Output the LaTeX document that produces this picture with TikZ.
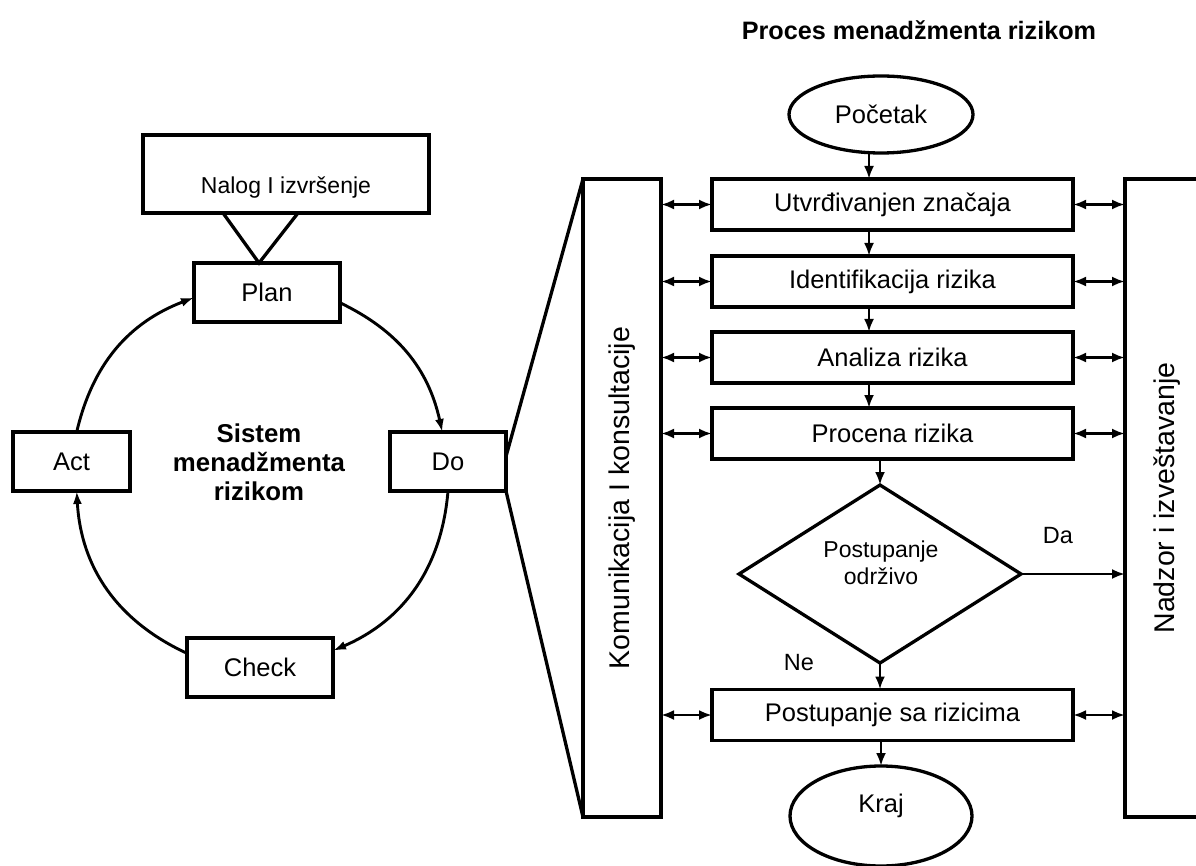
\documentclass[tikz,border=0pt]{standalone}
\usepackage{fontspec}
\setmainfont{Liberation Sans}
\usetikzlibrary{shapes.geometric,arrows.meta,calc}
\begin{document}
\begin{tikzpicture}[x=1pt,y=-1pt,
  every node/.style={inner sep=0pt,outer sep=0pt},
  frame/.style={draw,line width=3.3pt},
  txt/.style={font=\fontsize{25.5}{30}\selectfont},
  rbox/.style={frame,rectangle,minimum height=59pt,txt},
  pbox/.style={frame,rectangle,minimum width=361pt,minimum height=51pt,txt},
  ell/.style={frame,ellipse},
  side/.style={frame,rectangle,rotate=90,minimum width=638pt,font=\fontsize{28.5}{32}\selectfont},
  lab/.style={font=\fontsize{23.5}{28}\selectfont},
  arr/.style={line width=2.9pt,-{Latex[length=13pt,width=10pt]}},
  biarr/.style={line width=2.9pt,{Latex[length=13pt,width=10pt]}-{Latex[length=13pt,width=10pt]}},
  cyc/.style={line width=2.9pt,-{Latex[length=13pt,width=9pt]}}]
\useasboundingbox (0,0) rectangle (1196,866);
\clip (0,0) rectangle (1196,866);

% ---------- PDCA cycle ----------
\node[frame,minimum width=286pt,minimum height=78pt] (nalog) at (286,174) {};
\node[font=\fontsize{23}{27}\selectfont] at (286,188) {Nalog I izvršenje};
\node[rbox,minimum width=146pt] (plan) at (267,292.5) {Plan};
\node[rbox,minimum width=117pt] (act) at (71.5,461.5) {Act};
\node[rbox,minimum width=116pt] (do) at (448,461.5) {Do};
\node[rbox,minimum width=146pt] (check) at (260,667.5) {Check};
\node[font=\fontsize{25.8}{29}\selectfont\bfseries,align=center] (sys) at (259,462)
  {Sistem\\menadžmenta\\rizikom};

\draw[frame,line join=miter] ($(nalog.south)+(-63,0)$) -- ($(plan.north)+(-8,0)$)
  -- ($(nalog.south)+(12,0)$);

\draw[cyc] (plan.-8) to[bend left=26] (do.101);
\draw[cyc] (do.south) to[bend left=31] (check.13);
\draw[cyc] (check.169) to[bend left=31] (act.-80);
\draw[cyc] (act.80) to[bend left=28] (plan.184);

% ---------- risk management process ----------
\node[font=\fontsize{25.2}{29}\selectfont\bfseries] (title) at (919,30)
  {Proces menadžmenta rizikom};

\node[side,minimum height=78pt] (kom) at (622,498) {Komunikacija I konsultacije};
\node[side,minimum height=85pt] (nad) at (1167.5,498) {Nadzor i izveštavanje};

\draw[frame] (do.5) -- (kom.north east);
\draw[frame] (do.south east) -- (kom.north west);

\node[ell,minimum width=184pt,minimum height=77pt,txt] (start) at (881,114.5) {Početak};
\node[pbox] (utv) at (892.5,204.5) {Utvrđivanjen značaja};
\node[pbox] (ident) at (892.5,281.5) {Identifikacija rizika};
\node[pbox] (anal) at (892.5,357.5) {Analiza rizika};
\node[pbox] (proc) at (892.5,433.5) {Procena rizika};
\node[frame,diamond,minimum width=282pt,minimum height=178pt] (dec) at (880,574) {};
\node[font=\fontsize{23}{27}\selectfont,align=center] at (881,563) {Postupanje\\održivo};
\node[pbox] (post) at (892.5,715) {Postupanje sa rizicima};
\node[ell,minimum width=182pt,minimum height=100pt] (kraj) at (881,816) {};
\node[txt] at (881,806) {Kraj};

\coordinate (ax) at (869,0);
\draw[arr] (start.south -| ax) -- (utv.north -| ax);
\draw[arr] (utv.south -| ax) -- (ident.north -| ax);
\draw[arr] (ident.south -| ax) -- (anal.north -| ax);
\draw[arr] (anal.south -| ax) -- (proc.north -| ax);
\draw[arr] (proc.south -| dec.north) -- (dec.north);
\draw[arr] (dec.south) -- (post.north -| dec.south);
\draw[arr] (post.south -| kraj.north) -- (kraj.north);
\draw[arr] (dec.east) -- (dec.east -| nad.north);
\node[lab] at (1058,536) {Da};
\node[lab] at (799,663) {Ne};

\foreach \b in {utv,ident,anal,proc,post}{
  \draw[biarr] (\b.west -| kom.south) -- (\b.west);
  \draw[biarr] (\b.east) -- (\b.east -| nad.north);
}
\end{tikzpicture}
\end{document}
